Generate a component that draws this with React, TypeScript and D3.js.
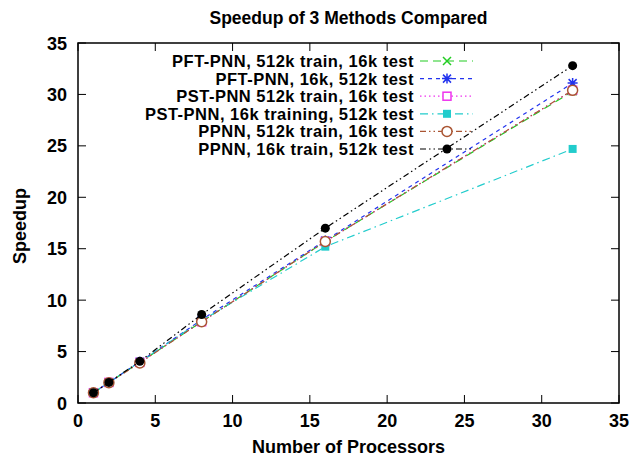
import { useEffect, useRef } from 'react'
import * as d3 from 'd3'

const W = 634
const H = 460
const MARGIN = { top: 43, right: 15, bottom: 57, left: 78 }

const processors = [1, 2, 4, 8, 16, 32]
const xTicks = [0, 5, 10, 15, 20, 25, 30, 35]
const yTicks = [0, 5, 10, 15, 20, 25, 30, 35]

const pftTrain512 = [1, 2, 3.95, 7.9, 15.7, 30.3]
const pft16k = [1, 2, 4, 8.1, 15.8, 31.1]
const pstTrain512 = [1, 2, 3.95, 7.9, 15.7, 30.4]
const pst16k = [1, 2, 4, 8.0, 15.2, 24.7]
const ppnnTrain512 = [1, 1.98, 3.9, 7.9, 15.7, 30.4]
const ppnn16k = [1, 2, 4.05, 8.6, 17.0, 32.8]

const seriesNames = [
  'PFT-PNN, 512k train, 16k test',
  'PFT-PNN, 16k, 512k test',
  'PST-PNN 512k train, 16k test',
  'PST-PNN, 16k training, 512k test',
  'PPNN, 512k train, 16k test',
  'PPNN, 16k train, 512k test',
]

const styles = [
  { color: '#22cc22', dash: '8,5', marker: 'x' },
  { color: '#2233ee', dash: '4,4', marker: 'star' },
  { color: '#ee33ee', dash: '1.5,3', marker: 'sqOpen' },
  { color: '#22cccc', dash: '8,4,1.5,4', marker: 'sqFill' },
  { color: '#aa5533', dash: '6,3,1.5,3,1.5,3', marker: 'circOpen' },
  { color: '#000000', dash: '6,3,1.5,3,1.5,3', marker: 'circFill' },
]

function drawMarker(g: any, kind: string, x: number, y: number, color: string) {
  if (kind === 'x') {
    g.append('path').attr('d', `M${x - 4},${y - 4}L${x + 4},${y + 4}M${x - 4},${y + 4}L${x + 4},${y - 4}`)
      .attr('stroke', color).attr('stroke-width', 1.5)
  } else if (kind === 'star') {
    g.append('path')
      .attr('d', `M${x - 5},${y}L${x + 5},${y}M${x},${y - 5}L${x},${y + 5}M${x - 4},${y - 4}L${x + 4},${y + 4}M${x - 4},${y + 4}L${x + 4},${y - 4}`)
      .attr('stroke', color).attr('stroke-width', 1.5)
  } else if (kind === 'sqOpen') {
    g.append('rect').attr('x', x - 4).attr('y', y - 4).attr('width', 8).attr('height', 8)
      .attr('fill', 'white').attr('stroke', color).attr('stroke-width', 1.5)
  } else if (kind === 'sqFill') {
    g.append('rect').attr('x', x - 4).attr('y', y - 4).attr('width', 8).attr('height', 8).attr('fill', color)
  } else if (kind === 'circOpen') {
    g.append('circle').attr('cx', x).attr('cy', y).attr('r', 5)
      .attr('fill', 'white').attr('stroke', color).attr('stroke-width', 1.5)
  } else {
    g.append('circle').attr('cx', x).attr('cy', y).attr('r', 4.5).attr('fill', color)
  }
}

export default function App() {
  const ref = useRef<SVGSVGElement>(null)

  useEffect(() => {
    const svg = d3.select(ref.current)
    svg.selectAll('*').remove()
    const font = '"Liberation Sans", Arial, sans-serif'

    const x = d3.scaleLinear().domain([0, 35]).range([MARGIN.left, W - MARGIN.right])
    const y = d3.scaleLinear().domain([0, 35]).range([H - MARGIN.bottom, MARGIN.top])
    const x0 = x(0), x1 = x(35), y0 = y(0), y1 = y(35)

    svg.append('rect').attr('width', W).attr('height', H).attr('fill', 'white')

    const axes = svg.append('g')
    // ticks on all four sides, pointing in
    xTicks.forEach((t) => {
      axes.append('line').attr('x1', x(t)).attr('x2', x(t)).attr('y1', y0).attr('y2', y0 - 8).attr('stroke', 'black')
      axes.append('line').attr('x1', x(t)).attr('x2', x(t)).attr('y1', y1).attr('y2', y1 + 8).attr('stroke', 'black')
      axes.append('text').attr('x', x(t)).attr('y', y0 + 24).attr('text-anchor', 'middle')
        .attr('font-family', font).attr('font-weight', 'bold').attr('font-size', 18).text(t)
    })
    yTicks.forEach((t) => {
      axes.append('line').attr('x1', x0).attr('x2', x0 + 8).attr('y1', y(t)).attr('y2', y(t)).attr('stroke', 'black')
      axes.append('line').attr('x1', x1).attr('x2', x1 - 8).attr('y1', y(t)).attr('y2', y(t)).attr('stroke', 'black')
      axes.append('text').attr('x', x0 - 11).attr('y', y(t) + 6.5).attr('text-anchor', 'end')
        .attr('font-family', font).attr('font-weight', 'bold').attr('font-size', 18).text(t)
    })
    axes.append('rect').attr('x', x0).attr('y', y1).attr('width', x1 - x0).attr('height', y0 - y1)
      .attr('fill', 'none').attr('stroke', 'black').attr('stroke-width', 1.5)

    const allSeries = [pftTrain512, pft16k, pstTrain512, pst16k, ppnnTrain512, ppnn16k]
    const line = d3.line<number>().x((_, i) => x(processors[i])).y((d) => y(d))

    const legendX = 414
    const legendY0 = 61
    const legendDy = 17.6

    allSeries.forEach((vals, si) => {
      const st = styles[si]
      const g = svg.append('g')
      g.append('path').attr('d', line(vals)).attr('fill', 'none').attr('stroke', st.color)
        .attr('stroke-width', 1.2).attr('stroke-dasharray', st.dash)
      vals.forEach((v, i) => drawMarker(g, st.marker, x(processors[i]), y(v), st.color))

      const ly = legendY0 + si * legendDy
      g.append('text').attr('x', legendX).attr('y', ly + 6).attr('text-anchor', 'end')
        .attr('font-family', font).attr('font-weight', 'bold').attr('font-size', 16.5)
        .attr('letter-spacing', 0.5).text(seriesNames[si])
      g.append('line').attr('x1', legendX + 6).attr('x2', legendX + 59).attr('y1', ly).attr('y2', ly)
        .attr('stroke', st.color).attr('stroke-width', 1.2).attr('stroke-dasharray', st.dash)
      drawMarker(g, st.marker, legendX + 33, ly, st.color)
    })

    svg.append('text').attr('x', (x0 + x1) / 2).attr('y', 24).attr('text-anchor', 'middle')
      .attr('font-family', font).attr('font-weight', 'bold').attr('font-size', 17.5)
      .text('Speedup of 3 Methods Compared')
    svg.append('text').attr('x', (x0 + x1) / 2).attr('y', 453).attr('text-anchor', 'middle')
      .attr('font-family', font).attr('font-weight', 'bold').attr('font-size', 18)
      .text('Number of Processors')
    svg.append('text').attr('transform', `translate(26,226) rotate(-90)`).attr('text-anchor', 'middle')
      .attr('font-family', font).attr('font-weight', 'bold').attr('font-size', 18)
      .text('Speedup')
  }, [])

  return (
    <svg ref={ref} width={W} height={H} style={{ position: 'absolute', left: 0, top: 0 }} />
  )
}
